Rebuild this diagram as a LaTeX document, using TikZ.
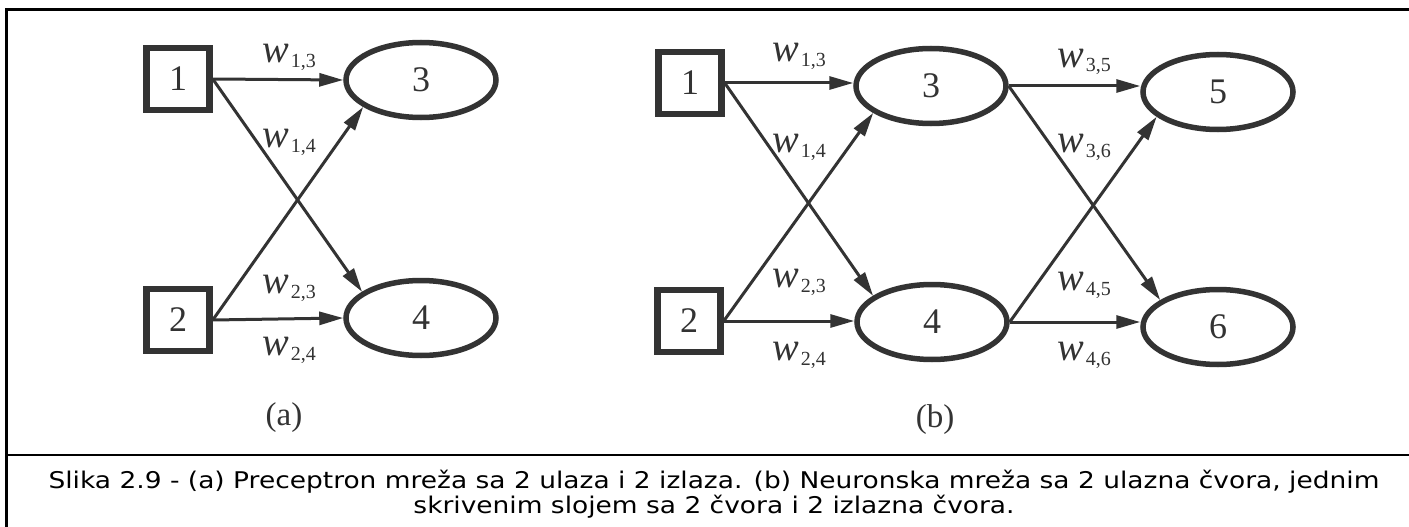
\documentclass[tikz,border=0pt]{standalone}
\usepackage{fontspec}
\setmainfont{Liberation Serif}
\newfontfamily\capfont[FakeStretch=1.15]{DejaVu Sans}
\usetikzlibrary{shapes.geometric,arrows.meta}
\definecolor{ink}{HTML}{333333}
\newcommand{\wlab}[1]{\textit{w}\kern2pt\raisebox{-5pt}{\fontsize{20}{20}\selectfont #1}}
\begin{document}
\begin{tikzpicture}[x=1pt,y=-1pt,
  inbox/.style={draw=ink, line width=6.5pt, minimum width=63pt, minimum height=62pt, inner sep=0pt, text=ink, font=\fontsize{36}{36}\selectfont},
  neuron/.style={ellipse, draw=ink, line width=5.5pt, minimum width=150pt, minimum height=75pt, inner sep=0pt, text=ink, font=\fontsize{36}{36}\selectfont},
  conn/.style={draw=ink, line width=3pt, -{Triangle[length=24pt,width=13pt]}},
  wl/.style={anchor=base, text=ink, font=\fontsize{40}{40}\selectfont, inner sep=0pt},
  sublab/.style={text=ink, font=\fontsize{33}{33}\selectfont},
  capline/.style={anchor=base, font=\capfont\fontsize{23}{26}\selectfont, inner sep=0pt}]
\useasboundingbox (0,0) rectangle (1409,527);
\fill[white] (0,0) rectangle (1409,527);
% frame
\draw[line width=3pt] (1409,10) -- (6,10) -- (6,527);
\draw[line width=2.2pt] (6,455) -- (1409,455);
% (a)
\node[inbox] (a1) at (178,79) {1};
\node[inbox] (a2) at (178,320) {2};
\node[neuron] (a3) at (421,80) {3};
\node[neuron] (a4) at (421,318) {4};
\draw[conn] (a1.east) -- (a3.west);
\draw[conn] (a1.east) -- (a4.156);
\draw[conn] (a2.east) -- (a3.205);
\draw[conn] (a2.east) -- (a4.west);
\node[wl] (la13) at (289,63) {\wlab{1,3}};
\node[wl] (la14) at (289,147) {\wlab{1,4}};
\node[wl] (la23) at (289,293) {\wlab{2,3}};
\node[wl] (la24) at (289,355) {\wlab{2,4}};
\node[sublab] (capa) at (284,418) {(a)};
% (b)
\node[inbox] (b1) at (690,83) {1};
\node[inbox] (b2) at (689,321) {2};
\node[neuron] (b3) at (931,86) {3};
\node[neuron] (b4) at (932,322) {4};
\node[neuron] (b5) at (1218,92) {5};
\node[neuron] (b6) at (1218,327) {6};
\draw[conn] (b1.east) -- (b3.west |- b1.east);
\draw[conn] (b1.east) -- (b4.156);
\draw[conn] (b2.east) -- (b3.205);
\draw[conn] (b2.east) -- (b4.west |- b2.east);
\draw[conn] (b3.east) -- (b5.west |- b3.east);
\draw[conn] (b3.east) -- (b6.155);
\draw[conn] (b4.east) -- (b5.202);
\draw[conn] (b4.east) -- (b6.west |- b4.east);
\node[wl] (lb13) at (799,62) {\wlab{1,3}};
\node[wl] (lb14) at (799,152) {\wlab{1,4}};
\node[wl] (lb23) at (799,287) {\wlab{2,3}};
\node[wl] (lb24) at (799,360) {\wlab{2,4}};
\node[wl] (lb35) at (1084,67) {\wlab{3,5}};
\node[wl] (lb36) at (1084,152) {\wlab{3,6}};
\node[wl] (lb45) at (1084,290) {\wlab{4,5}};
\node[wl] (lb46) at (1084,360) {\wlab{4,6}};
\node[sublab] (capb) at (935,420) {(b)};
% caption
\node[capline] (cap1) at (714,488) {Slika 2.9 - (a) Preceptron mreža sa 2 ulaza i 2 izlaza. (b) Neuronska mreža sa 2 ulazna čvora, jednim};
\node[capline] (cap2) at (714,513) {skrivenim slojem sa 2 čvora i 2 izlazna čvora.};
\end{tikzpicture}
\end{document}
